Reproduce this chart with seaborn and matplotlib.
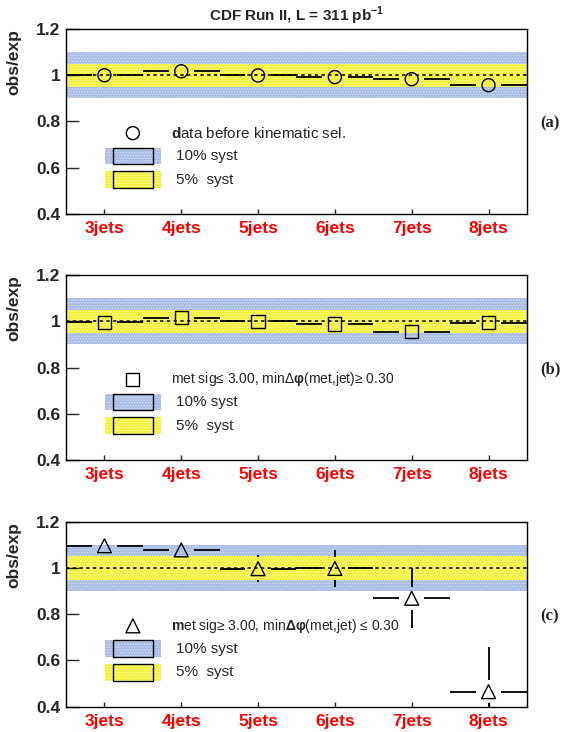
import numpy as np
import matplotlib
matplotlib.use("Agg")
import matplotlib.pyplot as plt
from matplotlib.patches import Rectangle
import seaborn as sns

sns.set_style("ticks")
plt.rcParams["font.family"] = ["Liberation Sans", "DejaVu Sans"]
plt.rcParams["mathtext.fontset"] = "custom"
plt.rcParams["mathtext.rm"] = "Liberation Sans"
plt.rcParams["mathtext.bf"] = "Liberation Sans:bold"
plt.rcParams["hatch.linewidth"] = 0.6

# ---------------------------------------------------------------- data
jets = ["3jets", "4jets", "5jets", "6jets", "7jets", "8jets"]
njets = np.array([3, 4, 5, 6, 7, 8])

ratio_a = np.array([1.000, 1.017, 0.999, 0.992, 0.983, 0.957])
err_a = np.array([0.01, 0.01, 0.01, 0.012, 0.014, 0.02])

ratio_b = np.array([0.995, 1.015, 1.000, 0.988, 0.955, 0.993])
err_b = np.array([0.01, 0.012, 0.012, 0.015, 0.02, 0.025])

ratio_c = np.array([1.096, 1.078, 0.997, 0.998, 0.869, 0.465])
err_c = np.array([0.02, 0.02, 0.058, 0.08, 0.13, 0.195])

labels = [r"$\mathbf{d}$ata before kinematic sel.",
          r"met sig≤ 3.00, minΔ$\mathbf{φ}$(met,jet)≥ 0.30",
          r"$\mathbf{m}$et sig≥ 3.00, min$\mathbf{Δφ}$(met,jet) ≤ 0.30"]
label_sizes = [11, 10, 10]
markers = ["o", "s", "^"]
sizes = [88, 90, 100]
panel_tags = ["(a)", "(b)", "(c)"]

BLUE = "#a9bde4"
BLUE_DOT = "#d6e0f3"
YELLOW = "#f1f13a"
YELLOW_DOT = "#fbfbb8"


# ---------------------------------------------------------------- helpers
def draw_panel(ax, ratio, err, marker, size, label, fs, tag):
    xs = np.array([2.5, 8.5])
    ax.fill_between(xs, 0.9, 1.1, facecolor=BLUE, edgecolor=BLUE_DOT,
                    hatch="......", linewidth=0, zorder=0)
    ax.fill_between(xs, 0.95, 1.05, facecolor=YELLOW, edgecolor=YELLOW_DOT,
                    hatch="......", linewidth=0, zorder=0.5)
    ax.axhline(1.0, color="black", lw=1.1, ls=(0, (2.2, 2.2)), zorder=1)

    # bin-wide horizontal bars, broken around the marker
    gx, gy = 0.165, 0.05
    ax.hlines(ratio, njets - 0.5, njets - gx, color="black", lw=1.3, zorder=2)
    ax.hlines(ratio, njets + gx, njets + 0.5, color="black", lw=1.3, zorder=2)
    up = err > gy
    ax.vlines(njets[up], ratio[up] + gy, ratio[up] + err[up], color="black", lw=1.3, zorder=2)
    ax.vlines(njets[up], ratio[up] - err[up], ratio[up] - gy, color="black", lw=1.3, zorder=2)

    sns.scatterplot(x=njets, y=ratio, marker=marker, s=size, facecolor="none",
                    edgecolor="black", linewidth=1.0, ax=ax, zorder=3, clip_on=True)

    ax.set_xlim(2.5, 8.5)
    ax.set_ylim(0.4, 1.2)
    ax.set_xticks(njets)
    ax.set_xticklabels(jets, color="red", fontweight="bold", fontsize=12.5)
    ax.set_yticks([0.4, 0.6, 0.8, 1.0, 1.2])
    ax.set_yticklabels(["0.4", "0.6", "0.8", "1", "1.2"], fontweight="bold", fontsize=12.5)
    ax.tick_params(axis="y", direction="in", length=9.5, width=1.0, pad=4)
    ax.tick_params(axis="x", direction="in", length=3.6, width=1.0, pad=5)
    for s in ax.spines.values():
        s.set_linewidth(1.0)
        s.set_color("black")
    ax.set_xlabel("")
    ax.set_ylabel("obs/exp", fontweight="bold", fontsize=12.5)
    ax.yaxis.set_label_coords(-0.097, 0.82)

    # hand-drawn legend
    ax.scatter([0.145], [0.437], marker=marker, s=size, facecolor="none",
               edgecolor="black", linewidth=1.0, transform=ax.transAxes, zorder=3)
    ax.text(0.228, 0.437, label, transform=ax.transAxes, fontsize=fs,
            va="center", ha="left")
    for y0, fc, dc, txt in [(0.268, BLUE, BLUE_DOT, "10% syst"),
                            (0.140, YELLOW, YELLOW_DOT, "5%  syst")]:
        ax.add_patch(Rectangle((0.085, y0), 0.121, 0.09, transform=ax.transAxes,
                               facecolor=fc, edgecolor=dc, hatch="......", lw=0, zorder=2))
        ax.add_patch(Rectangle((0.102, y0), 0.087, 0.09, transform=ax.transAxes,
                               facecolor="none", edgecolor="black", lw=1.0, zorder=3))
        ax.text(0.238, y0 + 0.045, txt, transform=ax.transAxes, fontsize=11,
                va="center", ha="left")

    ax.text(1.028, 0.49, tag, transform=ax.transAxes, fontsize=12,
            fontweight="bold", family="Liberation Serif", va="center", ha="left")


# ---------------------------------------------------------------- figure
fig = plt.figure(figsize=(5.74, 7.32), dpi=100)
bottoms = [0.7077, 0.3716, 0.0346]
axes = [fig.add_axes([0.115, b, 0.803, 0.2527]) for b in bottoms]

data = [(ratio_a, err_a), (ratio_b, err_b), (ratio_c, err_c)]
for ax, (r, e), m, sz, lab, fs, tag in zip(axes, data, markers, sizes, labels,
                                           label_sizes, panel_tags):
    draw_panel(ax, r, e, m, sz, lab, fs, tag)

axes[0].set_title(r"CDF Run II, L = 311 pb$^{\mathbf{-1}}$", fontsize=11,
                  fontweight="bold", pad=6)

fig.savefig("out.png", dpi=100)
